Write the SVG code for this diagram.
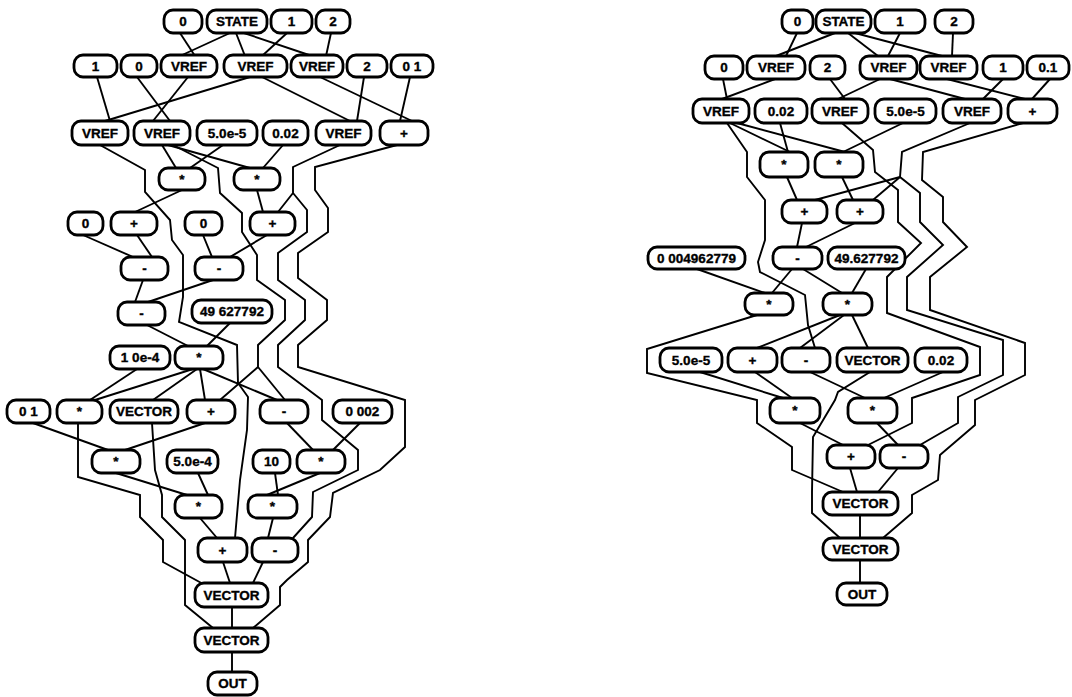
<svg xmlns="http://www.w3.org/2000/svg" width="1072" height="697" viewBox="0 0 1072 697">
<style>
.c{fill:none;stroke:#000;stroke-width:1.9;stroke-linejoin:miter}
.n rect{fill:#fff;stroke:#000;stroke-width:2.8}
.n text{font-family:"Liberation Sans",Arial,sans-serif;font-weight:bold;font-size:13.5px;text-anchor:middle;dominant-baseline:central;fill:#000;stroke:#000;stroke-width:0.35}
</style>
<rect width="1072" height="697" fill="#fff"/>
<g id="connectors">
<!-- left -->
<polyline class="c" points="180,33 195,56"/>
<polyline class="c" points="230,33 180,56"/>
<polyline class="c" points="236,33 245,56"/>
<polyline class="c" points="244,33 312,56"/>
<polyline class="c" points="287,33 262,56"/>
<polyline class="c" points="331,33 326,56"/>
<polyline class="c" points="97,77 110,121"/>
<polyline class="c" points="137,77 170,121"/>
<polyline class="c" points="188,77 153,121"/>
<polyline class="c" points="250,77 105,121"/>
<polyline class="c" points="262,77 350,121"/>
<polyline class="c" points="364,77 357,121"/>
<polyline class="c" points="320,77 412,121"/>
<polyline class="c" points="410,77 400,121"/>
<polyline class="c" points="100,145 145,170 145,192 170,220 172,240 183,255 183,297 179,322 237,345 238,383 248,397 247,430 240,480 235,538"/>
<polyline class="c" points="162,145 176,168"/>
<polyline class="c" points="223,145 190,168"/>
<polyline class="c" points="168,145 250,168"/>
<polyline class="c" points="173,145 218,168 220,193 242,213 242,232 257,255 257,280 285,300 285,320 258,345 258,367 220,400"/>
<polyline class="c" points="258,367 285,400"/>
<polyline class="c" points="283,145 263,168"/>
<polyline class="c" points="340,145 293,167 293,193 278,212"/>
<polyline class="c" points="293,193 307,210 307,232 278,253 278,280 305,300 305,320 278,345 278,367 322,400 322,420 358,450 358,470 313,492 312,517 293,538"/>
<polyline class="c" points="397,145 315,167 315,190 328,208 328,232 298,253 298,278 327,300 327,320 298,345 298,367 405,400 405,447 380,470 333,493 330,517 308,540 308,562 287,580 280,587 280,605 253,628"/>
<polyline class="c" points="182,190 135,212"/>
<polyline class="c" points="257,190 263,212"/>
<polyline class="c" points="83,235 133,257"/>
<polyline class="c" points="137,235 152,257"/>
<polyline class="c" points="203,235 212,257"/>
<polyline class="c" points="267,235 230,257"/>
<polyline class="c" points="143,280 135,302"/>
<polyline class="c" points="213,280 148,302"/>
<polyline class="c" points="147,325 188,346"/>
<polyline class="c" points="230,323 207,346"/>
<polyline class="c" points="137,369 90,400"/>
<polyline class="c" points="193,369 95,400"/>
<polyline class="c" points="197,369 153,400"/>
<polyline class="c" points="200,369 205,400"/>
<polyline class="c" points="203,369 277,400"/>
<polyline class="c" points="205,423 125,450"/>
<polyline class="c" points="33,423 108,450"/>
<polyline class="c" points="287,423 313,450"/>
<polyline class="c" points="360,423 333,450"/>
<polyline class="c" points="78,423 78,477 140,495 140,517 163,540 163,562 205,585"/>
<polyline class="c" points="152,423 155,470 162,495 162,517 185,540 185,605 213,628"/>
<polyline class="c" points="116,473 187,495"/>
<polyline class="c" points="198,473 208,495"/>
<polyline class="c" points="275,473 278,495"/>
<polyline class="c" points="320,473 267,495"/>
<polyline class="c" points="200,518 217,538"/>
<polyline class="c" points="273,518 268,538"/>
<polyline class="c" points="223,562 230,583"/>
<polyline class="c" points="263,562 253,583"/>
<polyline class="c" points="232,607 232,628"/>
<polyline class="c" points="232,652 232,672"/>
<!-- right -->
<polyline class="c" points="797,33 786,56"/>
<polyline class="c" points="835,33 776,56"/>
<polyline class="c" points="848,33 878,56"/>
<polyline class="c" points="900,33 888,56"/>
<polyline class="c" points="855,33 942,56"/>
<polyline class="c" points="953,33 952,56"/>
<polyline class="c" points="723,79 727,99"/>
<polyline class="c" points="775,79 722,99"/>
<polyline class="c" points="830,79 845,99"/>
<polyline class="c" points="880,79 838,99"/>
<polyline class="c" points="890,79 965,99"/>
<polyline class="c" points="1003,79 983,99"/>
<polyline class="c" points="947,79 1025,99"/>
<polyline class="c" points="1050,79 1032,99"/>
<polyline class="c" points="727,123 747,152 747,177 765,200 765,240 758,262 760,272 805,295 808,325 815,348"/>
<polyline class="c" points="730,123 790,152"/>
<polyline class="c" points="737,123 845,152"/>
<polyline class="c" points="780,123 788,152"/>
<polyline class="c" points="903,123 843,152"/>
<polyline class="c" points="842,123 873,150 875,172 898,190 898,222 921,243 887,277 887,313 980,347 980,375 912,398 912,423 868,445"/>
<polyline class="c" points="970,123 902,152 900,177 920,193 920,222 943,245 907,277 907,310 1003,340 1003,375 958,397 958,423 920,445"/>
<polyline class="c" points="900,177 815,200"/>
<polyline class="c" points="900,177 873,200"/>
<polyline class="c" points="1023,123 923,152 922,180 943,197 943,222 967,247 930,277 930,310 1025,343 1025,375 975,400 975,425 940,455 938,480 912,495 912,513 883,538"/>
<polyline class="c" points="787,177 797,200"/>
<polyline class="c" points="842,177 853,200"/>
<polyline class="c" points="802,223 797,247"/>
<polyline class="c" points="855,223 806,247"/>
<polyline class="c" points="697,269 765,293"/>
<polyline class="c" points="792,269 772,293"/>
<polyline class="c" points="803,269 842,293"/>
<polyline class="c" points="866,269 852,293"/>
<polyline class="c" points="757,315 647,349 647,373 757,400 757,423 792,447 792,470 843,492"/>
<polyline class="c" points="840,315 757,348"/>
<polyline class="c" points="844,315 800,348"/>
<polyline class="c" points="852,315 868,348"/>
<polyline class="c" points="700,372 783,398"/>
<polyline class="c" points="755,372 792,398"/>
<polyline class="c" points="810,372 865,398"/>
<polyline class="c" points="943,372 884,398"/>
<polyline class="c" points="870,372 838,392 835,400 813,437 812,492 812,513 840,538"/>
<polyline class="c" points="800,423 843,445"/>
<polyline class="c" points="877,423 898,445"/>
<polyline class="c" points="850,468 857,492"/>
<polyline class="c" points="898,468 878,492"/>
<polyline class="c" points="860,515 860,538"/>
<polyline class="c" points="860,560 860,583"/>
</g>
<!-- left nodes -->
<g id="l_r1_0" class="n"><rect x="164" y="10" width="38" height="23" rx="9"/><text x="183" y="21.5">0</text></g>
<g id="l_r1_state" class="n"><rect x="207" y="10" width="60" height="23" rx="9"/><text x="237" y="21.5">STATE</text></g>
<g id="l_r1_1" class="n"><rect x="271" y="10" width="41" height="23" rx="9"/><text x="291.5" y="21.5">1</text></g>
<g id="l_r1_2" class="n"><rect x="316" y="10" width="34" height="23" rx="9"/><text x="333" y="21.5">2</text></g>
<g id="l_r2_1" class="n"><rect x="74" y="55" width="43" height="22" rx="9"/><text x="95.5" y="66">1</text></g>
<g id="l_r2_0" class="n"><rect x="121" y="55" width="36" height="22" rx="9"/><text x="139" y="66">0</text></g>
<g id="l_r2_v1" class="n"><rect x="161" y="55" width="56" height="22" rx="9"/><text x="189" y="66">VREF</text></g>
<g id="l_r2_v2" class="n"><rect x="224" y="55" width="63" height="22" rx="9"/><text x="255.5" y="66">VREF</text></g>
<g id="l_r2_v3" class="n"><rect x="291" y="55" width="52" height="22" rx="9"/><text x="317" y="66">VREF</text></g>
<g id="l_r2_2" class="n"><rect x="347" y="55" width="40" height="22" rx="9"/><text x="367" y="66">2</text></g>
<g id="l_r2_01" class="n"><rect x="391" y="55" width="42" height="22" rx="9"/><text x="412" y="66">0 1</text></g>
<g id="l_r3_va" class="n"><rect x="72" y="121" width="56" height="24" rx="9"/><text x="100" y="133">VREF</text></g>
<g id="l_r3_vb" class="n"><rect x="134" y="121" width="56" height="24" rx="9"/><text x="162" y="133">VREF</text></g>
<g id="l_r3_5e5" class="n"><rect x="197" y="121" width="60" height="24" rx="9"/><text x="227" y="133">5.0e-5</text></g>
<g id="l_r3_002" class="n"><rect x="263" y="121" width="45" height="24" rx="9"/><text x="285.5" y="133">0.02</text></g>
<g id="l_r3_vc" class="n"><rect x="316" y="121" width="55" height="24" rx="9"/><text x="343.5" y="133">VREF</text></g>
<g id="l_r3_add" class="n"><rect x="380" y="121" width="48" height="24" rx="9"/><text x="404" y="133">+</text></g>
<g id="l_r4_m1" class="n"><rect x="159" y="168" width="46" height="22" rx="9"/><text x="182" y="179">*</text></g>
<g id="l_r4_m2" class="n"><rect x="234" y="168" width="46" height="22" rx="9"/><text x="257" y="179">*</text></g>
<g id="l_r5_0a" class="n"><rect x="68" y="212" width="35" height="23" rx="9"/><text x="85.5" y="223.5">0</text></g>
<g id="l_r5_add1" class="n"><rect x="111" y="212" width="46" height="23" rx="9"/><text x="134" y="223.5">+</text></g>
<g id="l_r5_0b" class="n"><rect x="185" y="212" width="37" height="23" rx="9"/><text x="203.5" y="223.5">0</text></g>
<g id="l_r5_add2" class="n"><rect x="250" y="212" width="45" height="23" rx="9"/><text x="272.5" y="223.5">+</text></g>
<g id="l_r6_s1" class="n"><rect x="121" y="257" width="47" height="23" rx="9"/><text x="144.5" y="268.5">-</text></g>
<g id="l_r6_s2" class="n"><rect x="195" y="257" width="48" height="23" rx="9"/><text x="219" y="268.5">-</text></g>
<g id="l_r7_s" class="n"><rect x="118" y="302" width="47" height="23" rx="9"/><text x="141.5" y="313.5">-</text></g>
<g id="l_r7_49" class="n"><rect x="192" y="300" width="80" height="23" rx="9"/><text x="232" y="311.5">49 627792</text></g>
<g id="l_r8_1e4" class="n"><rect x="110" y="346" width="60" height="23" rx="9"/><text x="140" y="357.5">1 0e-4</text></g>
<g id="l_r8_m" class="n"><rect x="175" y="346" width="48" height="23" rx="9"/><text x="199" y="357.5">*</text></g>
<g id="l_r9_01" class="n"><rect x="7" y="400" width="43" height="23" rx="9"/><text x="28.5" y="411.5">0 1</text></g>
<g id="l_r9_m" class="n"><rect x="57" y="400" width="45" height="23" rx="9"/><text x="79.5" y="411.5">*</text></g>
<g id="l_r9_vec" class="n"><rect x="110" y="400" width="68" height="23" rx="9"/><text x="144" y="411.5">VECTOR</text></g>
<g id="l_r9_add" class="n"><rect x="187" y="400" width="48" height="23" rx="9"/><text x="211" y="411.5">+</text></g>
<g id="l_r9_sub" class="n"><rect x="260" y="400" width="48" height="23" rx="9"/><text x="284" y="411.5">-</text></g>
<g id="l_r9_0002" class="n"><rect x="333" y="400" width="59" height="23" rx="9"/><text x="362.5" y="411.5">0 002</text></g>
<g id="l_r10_m1" class="n"><rect x="92" y="450" width="48" height="23" rx="9"/><text x="116" y="461.5">*</text></g>
<g id="l_r10_5e4" class="n"><rect x="167" y="450" width="51" height="23" rx="9"/><text x="192.5" y="461.5">5.0e-4</text></g>
<g id="l_r10_10" class="n"><rect x="253" y="450" width="37" height="23" rx="9"/><text x="271.5" y="461.5">10</text></g>
<g id="l_r10_m2" class="n"><rect x="297" y="450" width="48" height="23" rx="9"/><text x="321" y="461.5">*</text></g>
<g id="l_r11_m1" class="n"><rect x="175" y="495" width="47" height="23" rx="9"/><text x="198.5" y="506.5">*</text></g>
<g id="l_r11_m2" class="n"><rect x="248" y="495" width="49" height="23" rx="9"/><text x="272.5" y="506.5">*</text></g>
<g id="l_r12_add" class="n"><rect x="198" y="538" width="49" height="24" rx="9"/><text x="222.5" y="550">+</text></g>
<g id="l_r12_sub" class="n"><rect x="252" y="538" width="46" height="24" rx="9"/><text x="275" y="550">-</text></g>
<g id="l_r13_vec" class="n"><rect x="195" y="583" width="73" height="24" rx="9"/><text x="231.5" y="595">VECTOR</text></g>
<g id="l_r14_vec" class="n"><rect x="195" y="628" width="73" height="24" rx="9"/><text x="231.5" y="640">VECTOR</text></g>
<g id="l_out" class="n"><rect x="208" y="672" width="49" height="23" rx="9"/><text x="232.5" y="683.5">OUT</text></g>
<!-- right nodes -->
<g id="r_r1_0" class="n"><rect x="782" y="10" width="31" height="23" rx="9"/><text x="797.5" y="21.5">0</text></g>
<g id="r_r1_state" class="n"><rect x="816" y="10" width="55" height="23" rx="9"/><text x="843.5" y="21.5">STATE</text></g>
<g id="r_r1_1" class="n"><rect x="875" y="10" width="50" height="23" rx="9"/><text x="900" y="21.5">1</text></g>
<g id="r_r1_2" class="n"><rect x="935" y="10" width="38" height="23" rx="9"/><text x="954" y="21.5">2</text></g>
<g id="r_r2_0" class="n"><rect x="705" y="56" width="38" height="23" rx="9"/><text x="724" y="67.5">0</text></g>
<g id="r_r2_v1" class="n"><rect x="747" y="56" width="58" height="23" rx="9"/><text x="776" y="67.5">VREF</text></g>
<g id="r_r2_2" class="n"><rect x="810" y="56" width="35" height="23" rx="9"/><text x="827.5" y="67.5">2</text></g>
<g id="r_r2_v2" class="n"><rect x="860" y="56" width="57" height="23" rx="9"/><text x="888.5" y="67.5">VREF</text></g>
<g id="r_r2_v3" class="n"><rect x="920" y="56" width="57" height="23" rx="9"/><text x="948.5" y="67.5">VREF</text></g>
<g id="r_r2_1" class="n"><rect x="983" y="56" width="40" height="23" rx="9"/><text x="1003" y="67.5">1</text></g>
<g id="r_r2_01" class="n"><rect x="1027" y="56" width="42" height="23" rx="9"/><text x="1048" y="67.5">0.1</text></g>
<g id="r_r3_va" class="n"><rect x="693" y="99" width="56" height="24" rx="9"/><text x="721" y="111">VREF</text></g>
<g id="r_r3_002" class="n"><rect x="755" y="99" width="52" height="24" rx="9"/><text x="781" y="111">0.02</text></g>
<g id="r_r3_vc" class="n"><rect x="812" y="99" width="56" height="24" rx="9"/><text x="840" y="111">VREF</text></g>
<g id="r_r3_5e5" class="n"><rect x="875" y="99" width="61" height="24" rx="9"/><text x="905.5" y="111">5.0e-5</text></g>
<g id="r_r3_ve" class="n"><rect x="943" y="99" width="58" height="24" rx="9"/><text x="972" y="111">VREF</text></g>
<g id="r_r3_add" class="n"><rect x="1008" y="99" width="49" height="24" rx="9"/><text x="1032.5" y="111">+</text></g>
<g id="r_r4_m1" class="n"><rect x="760" y="152" width="48" height="25" rx="9"/><text x="784" y="164.5">*</text></g>
<g id="r_r4_m2" class="n"><rect x="815" y="152" width="48" height="25" rx="9"/><text x="839" y="164.5">*</text></g>
<g id="r_r5_a1" class="n"><rect x="782" y="200" width="45" height="23" rx="9"/><text x="804.5" y="211.5">+</text></g>
<g id="r_r5_a2" class="n"><rect x="837" y="200" width="46" height="23" rx="9"/><text x="860" y="211.5">+</text></g>
<g id="r_r6_c" class="n"><rect x="648" y="247" width="97" height="22" rx="9"/><text x="696.5" y="258">0 004962779</text></g>
<g id="r_r6_s" class="n"><rect x="773" y="247" width="49" height="22" rx="9"/><text x="797.5" y="258">-</text></g>
<g id="r_r6_49" class="n"><rect x="828" y="247" width="77" height="22" rx="9"/><text x="866.5" y="258">49.627792</text></g>
<g id="r_r7_m1" class="n"><rect x="745" y="293" width="48" height="22" rx="9"/><text x="769" y="304">*</text></g>
<g id="r_r7_m2" class="n"><rect x="823" y="293" width="49" height="22" rx="9"/><text x="847.5" y="304">*</text></g>
<g id="r_r8_5e5" class="n"><rect x="660" y="348" width="62" height="24" rx="9"/><text x="691" y="360">5.0e-5</text></g>
<g id="r_r8_add" class="n"><rect x="728" y="348" width="49" height="24" rx="9"/><text x="752.5" y="360">+</text></g>
<g id="r_r8_sub" class="n"><rect x="782" y="348" width="48" height="24" rx="9"/><text x="806" y="360">-</text></g>
<g id="r_r8_vec" class="n"><rect x="837" y="348" width="71" height="24" rx="9"/><text x="872.5" y="360">VECTOR</text></g>
<g id="r_r8_002" class="n"><rect x="915" y="348" width="52" height="24" rx="9"/><text x="941" y="360">0.02</text></g>
<g id="r_r9_m1" class="n"><rect x="770" y="398" width="50" height="25" rx="9"/><text x="795" y="410.5">*</text></g>
<g id="r_r9_m2" class="n"><rect x="848" y="398" width="49" height="25" rx="9"/><text x="872.5" y="410.5">*</text></g>
<g id="r_r10_add" class="n"><rect x="827" y="445" width="48" height="23" rx="9"/><text x="851" y="456.5">+</text></g>
<g id="r_r10_sub" class="n"><rect x="880" y="445" width="48" height="23" rx="9"/><text x="904" y="456.5">-</text></g>
<g id="r_r11_vec" class="n"><rect x="823" y="492" width="75" height="23" rx="9"/><text x="860.5" y="503.5">VECTOR</text></g>
<g id="r_r12_vec" class="n"><rect x="823" y="538" width="75" height="22" rx="9"/><text x="860.5" y="549">VECTOR</text></g>
<g id="r_out" class="n"><rect x="837" y="583" width="50" height="22" rx="9"/><text x="862" y="594">OUT</text></g>
</svg>
